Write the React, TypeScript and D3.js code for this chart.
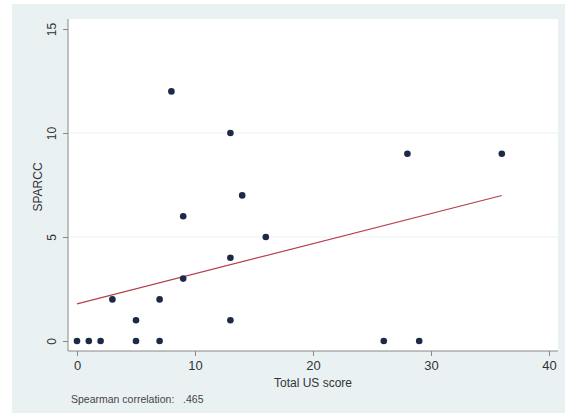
import React, { useRef, useEffect } from 'react';
import * as d3 from 'd3';

// data
const usScore = [0, 1, 2, 5, 7, 26, 29, 5, 13, 3, 7, 9, 13, 16, 9, 14, 28, 36, 13, 8];
const sparcc = [0, 0, 0, 0, 0, 0, 0, 1, 1, 2, 2, 3, 4, 5, 6, 7, 9, 9, 10, 12];
const xTicks = [0, 10, 20, 30, 40];
const yTicks = [0, 5, 10, 15];
const note = 'Spearman correlation:   .465';

const W = 568;
const H = 413;

const App = () => {
  const svgRef = useRef<SVGSVGElement>(null);

  useEffect(() => {
    const svg = d3.select(svgRef.current);
    svg.selectAll('*').remove();

    // outer (graph) region
    svg.append('rect')
      .attr('x', 12).attr('y', 4)
      .attr('width', 553).attr('height', 409)
      .attr('fill', '#eaf1f3');

    const left = 68, right = 558, top = 19, bottom = 351;

    // plot region
    svg.append('rect')
      .attr('x', left).attr('y', top)
      .attr('width', right - left).attr('height', bottom - top)
      .attr('fill', '#ffffff');

    const x = d3.scaleLinear().domain([0, 40]).range([77, 549]);
    const y = d3.scaleLinear().domain([0, 15]).range([341, 29]);

    // grid lines
    svg.selectAll('.grid')
      .data(yTicks.filter(d => d > 0 && d < 15))
      .enter()
      .append('line')
      .attr('x1', left).attr('x2', right)
      .attr('y1', d => y(d)).attr('y2', d => y(d))
      .attr('stroke', '#eef2f2')
      .attr('stroke-width', 1);

    // y axis
    const yAxis = d3.axisLeft(y).tickValues(yTicks).tickSize(5).tickFormat(d3.format('d'));
    const gy = svg.append('g')
      .attr('transform', `translate(${left},0)`)
      .call(yAxis);
    gy.select('.domain').attr('d', `M0,${top}V${bottom}`).attr('stroke', '#888');
    gy.selectAll('.tick line').attr('stroke', '#888');
    gy.selectAll('.tick text')
      .attr('x', 0).attr('y', 0)
      .attr('dy', 0)
      .attr('transform', 'translate(-12,0) rotate(-90)')
      .attr('text-anchor', 'middle')
      .attr('font-family', 'Liberation Sans, Arial, sans-serif')
      .attr('font-size', 12)
      .attr('fill', '#333');

    // x axis
    const xAxis = d3.axisBottom(x).tickValues(xTicks).tickSize(5).tickFormat(d3.format('d'));
    const gx = svg.append('g')
      .attr('transform', `translate(0,${bottom})`)
      .call(xAxis);
    gx.select('.domain').attr('d', `M${left},0H${right}`).attr('stroke', '#888');
    gx.selectAll('.tick line').attr('stroke', '#888');
    gx.selectAll('.tick text')
      .attr('y', 10)
      .attr('font-family', 'Liberation Sans, Arial, sans-serif')
      .attr('font-size', 13)
      .attr('fill', '#333');

    // axis titles
    svg.append('text')
      .attr('transform', `translate(42,${(top + bottom) / 2 + 2}) rotate(-90)`)
      .attr('text-anchor', 'middle')
      .attr('font-family', 'Liberation Sans, Arial, sans-serif')
      .attr('font-size', 12)
      .attr('fill', '#333')
      .text('SPARCC');

    svg.append('text')
      .attr('x', x(20)).attr('y', 387)
      .attr('text-anchor', 'middle')
      .attr('font-family', 'Liberation Sans, Arial, sans-serif')
      .attr('font-size', 12)
      .attr('fill', '#333')
      .text('Total US score');

    svg.append('text')
      .attr('x', 71).attr('y', 403)
      .attr('font-family', 'Liberation Sans, Arial, sans-serif')
      .attr('font-size', 10.5)
      .attr('fill', '#444')
      .attr('xml:space', 'preserve')
      .style('white-space', 'pre')
      .text(note);

    // fitted line (OLS)
    const mx = d3.mean(usScore)!;
    const my = d3.mean(sparcc)!;
    const sxy = d3.sum(usScore, (v, i) => (v - mx) * (sparcc[i] - my));
    const sxx = d3.sum(usScore, v => (v - mx) ** 2);
    const b = sxy / sxx;
    const a = my - b * mx;
    const [x0, x1] = d3.extent(usScore) as [number, number];
    svg.append('line')
      .attr('x1', x(x0)).attr('y1', y(a + b * x0))
      .attr('x2', x(x1)).attr('y2', y(a + b * x1))
      .attr('stroke', '#b4404e')
      .attr('stroke-width', 1.2);

    // points
    svg.selectAll('.dot')
      .data(usScore)
      .enter()
      .append('circle')
      .attr('cx', d => x(d))
      .attr('cy', (d, i) => y(sparcc[i]))
      .attr('r', 3.3)
      .attr('fill', '#1c2a48');
  }, []);

  return (
    <svg ref={svgRef} width={W} height={H}
      style={{ position: 'absolute', left: 0, top: 0, background: '#fff' }} />
  );
};

export default App;
